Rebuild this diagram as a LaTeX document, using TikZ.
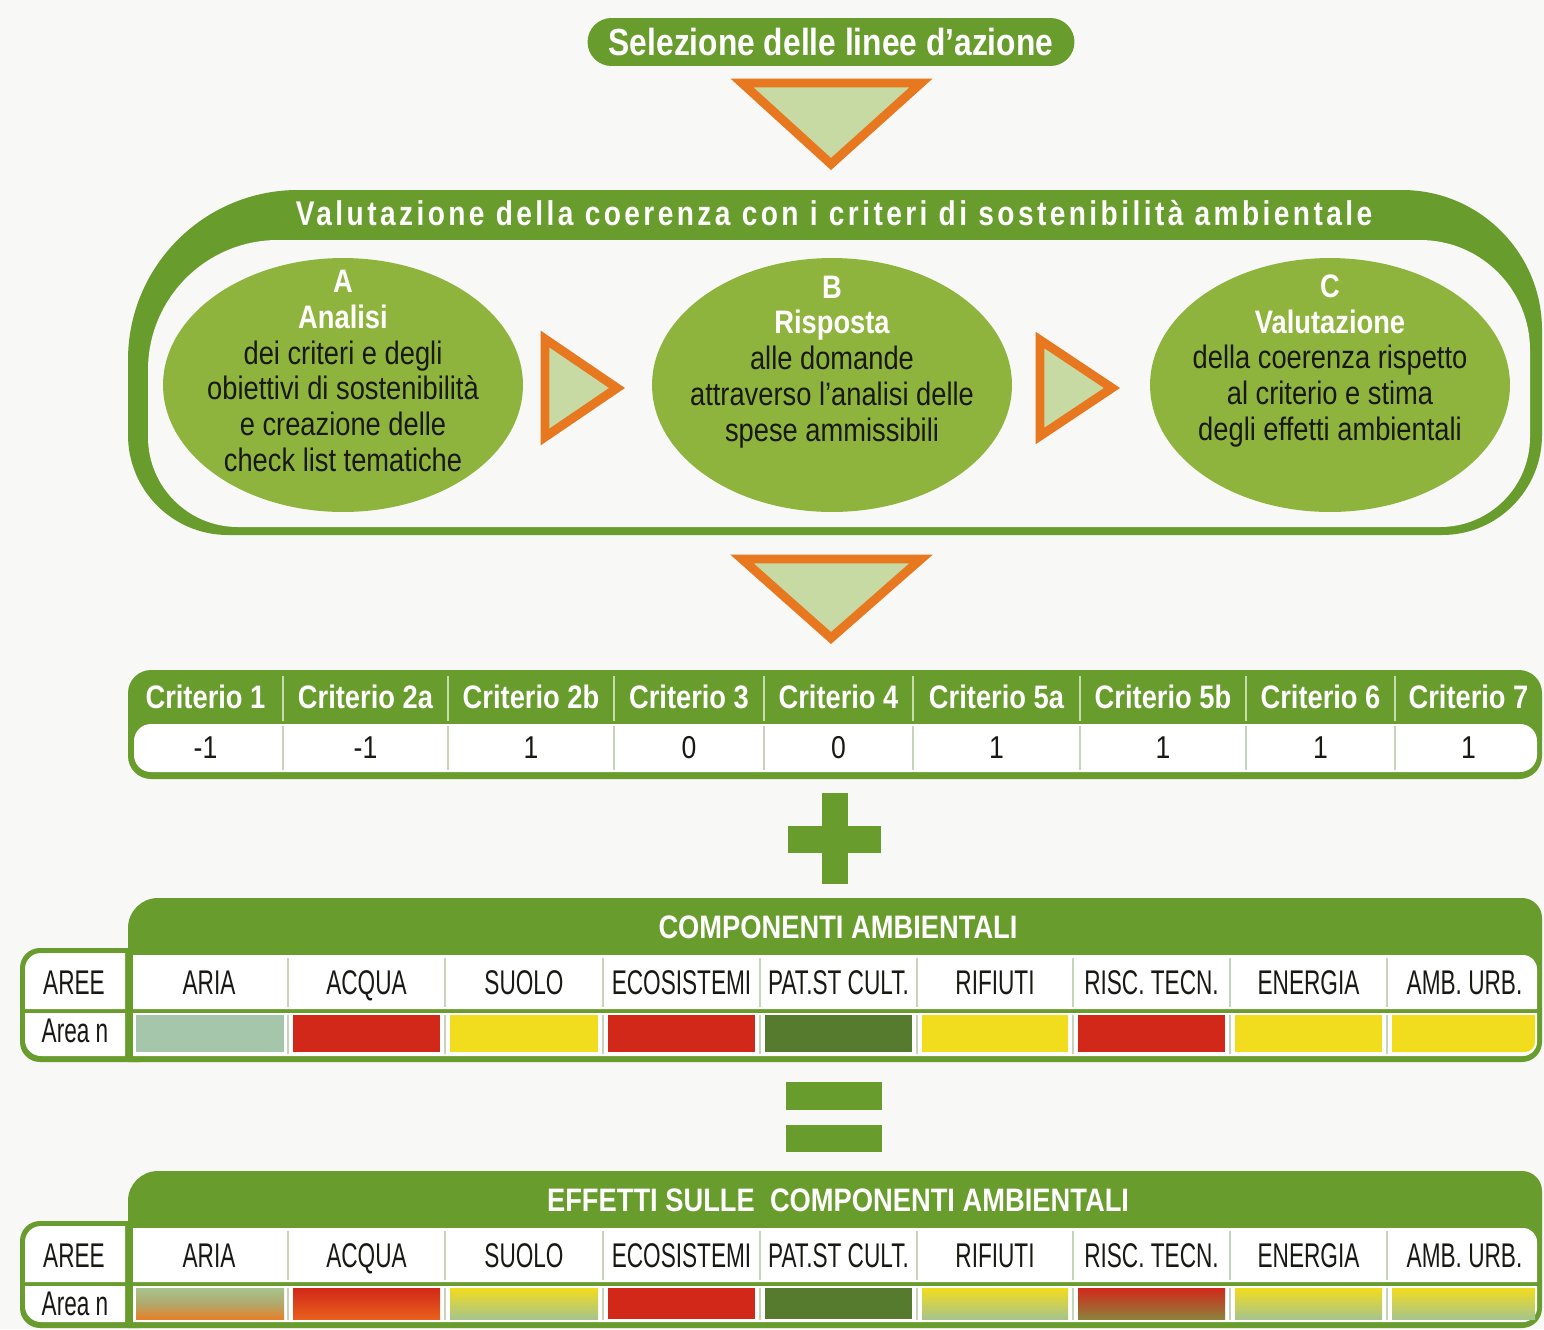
\documentclass[tikz,border=0pt]{standalone}
\usepackage{fontspec}
\setmainfont{Liberation Sans}[FakeStretch=0.84]
\newfontfamily\widefont{Liberation Sans}[FakeStretch=0.82,LetterSpace=10]
\newfontfamily\capsfont{Liberation Sans}[FakeStretch=0.66]
\usetikzlibrary{shapes.geometric}
\definecolor{hdr}{RGB}{104,156,44}
\definecolor{ell}{RGB}{143,180,62}
\definecolor{trifill}{RGB}{200,218,164}
\definecolor{triline}{RGB}{232,120,32}
\definecolor{ink}{RGB}{25,25,20}
\definecolor{bg}{RGB}{248,248,246}
\definecolor{cred}{RGB}{210,40,26}
\definecolor{cyel}{RGB}{242,220,30}
\definecolor{cdkg}{RGB}{86,122,46}
\definecolor{cpale}{RGB}{166,198,172}
\definecolor{cpgreen}{RGB}{166,196,140}
\definecolor{corange}{RGB}{232,128,40}
\definecolor{cred2}{RGB}{232,96,28}
\definecolor{colive}{RGB}{140,130,60}
\definecolor{div}{RGB}{200,212,186}
\definecolor{hdiv}{RGB}{200,222,170}

\newcommand\ctframe[1]{%
  \fill[hdr] (128,#1) -- (128,928) arc (180:270:30) -- (1522,898) arc (270:360:20) -- (1542,#1-20) arc (0:90:20) -- cycle;
  \fill[hdr] (140,948) -- (40,948) arc (270:180:20) -- (20,#1-20) arc (180:90:20) -- (140,#1) -- cycle;
  \fill[white] (133,955) -- (1523,955) arc (270:360:14) -- (1537,1009) -- (133,1009) -- cycle;
  \fill[white] (125,953) -- (41,953) arc (270:180:16) -- (25,1009) -- (125,1009) -- cycle;
  \fill[white] (133,1013) -- (1537,1013) -- (1537,#1-20) arc (0:90:14) -- (133,#1-6) -- cycle;
  \fill[white] (125,1013) -- (25,1013) -- (25,#1-22) arc (180:90:16) -- (125,#1-6) -- cycle;
  \foreach \e in {288,445,603,760,917,1073,1230,1387}{
    \draw[div, line width=1.2pt] (\e,958) -- (\e,1007);
    \draw[div, line width=1.2pt] (\e,1015) -- (\e,#1-8);
  }
}
\newcommand\ctlabels[2]{% #1 prefix, #2 title
  \node[ctitle] (#1title) at (838,927) {#2};
  \node[clab] (#1aree) at (74,983) {AREE};
  \node[clab] (#1arean) at (75,1031) {Area n};
  \foreach \x/\lab [count=\i] in {209/ARIA,366.5/ACQUA,524/SUOLO,681.5/ECOSISTEMI,838.5/PAT.ST CULT.,995/RIFIUTI,1151.5/RISC. TECN.,1308.5/ENERGIA,1464.5/AMB. URB.}{
    \node[clab] (#1c\i) at (\x,983) {\lab};
  }
}

\begin{document}
\begin{tikzpicture}[x=0.02cm,y=-0.02cm,
  pill/.style={fill=hdr, rounded corners=0.48cm, minimum width=9.74cm, minimum height=0.96cm, inner sep=0pt, text=white, font=\fontsize{21.5}{25}\selectfont\bfseries},
  bigtitle/.style={text=white, inner sep=0pt, font=\widefont\fontsize{19.5}{22}\selectfont\bfseries},
  ellshape/.style={ellipse, fill=ell, minimum width=7.2cm, minimum height=5.08cm, inner sep=0pt},
  etext/.style={align=center, text=ink, inner sep=0pt, font=\fontsize{18.5}{20.4}\selectfont},
  arrowtri/.style={fill=trifill, draw=triline, line width=9pt*0.5669, line join=miter},
  crithead/.style={text=white, inner sep=0pt, text height=12.7pt, text depth=0pt, font=\fontsize{18.5}{20}\selectfont\bfseries},
  critval/.style={text=ink, inner sep=0pt, text height=12.4pt, text depth=0pt, font=\fontsize{18}{20}\selectfont},
  ctitle/.style={text=white, inner sep=0pt, text height=12.7pt, text depth=0pt, font=\fontsize{18.5}{20}\selectfont\bfseries},
  clab/.style={text=ink, inner sep=0pt, text height=13.4pt, text depth=0pt, font=\capsfont\fontsize{19.5}{22}\selectfont},
  opsign/.style={fill=hdr}
]
\useasboundingbox (0,0) rectangle (1544,1329);
\fill[bg] (0,0) rectangle (1544,1329);

% title pill
\node[pill] (sel) at (831,42) {Selezione delle linee d'azione};

% down triangle 1
\filldraw[arrowtri] (742,83) -- (921,83) -- (831,164) -- cycle;

% big frame
\fill[hdr] (128,360) arc (180:270:170) -- (1402,190) arc (270:360:140) -- (1542,435) arc (0:90:100) -- (228,535) arc (90:180:100) -- cycle;
\fill[bg] (148,370) arc (180:270:130) -- (1420,240) arc (270:360:110) -- (1530,437) arc (0:90:90) -- (238,527) arc (90:180:90) -- cycle;
\node[bigtitle] (valtitle) at (834,213) {Valutazione della coerenza con i criteri di sostenibilità ambientale};

% ellipses
\node[ellshape] (eA) at (343,385) {};
\node[ellshape] (eB) at (832,385) {};
\node[ellshape] (eC) at (1330,385) {};
\node[etext] (tA) at (343,371) {\textbf{\textcolor{white}{A}}\\ \textbf{\textcolor{white}{Analisi}}\\ dei criteri e degli\\ obiettivi di sostenibilità\\ e creazione delle\\ check list tematiche};
\node[etext] (tB) at (832,362) {\textbf{\textcolor{white}{B}}\\ \textbf{\textcolor{white}{Risposta}}\\ alle domande\\ attraverso l'analisi delle\\ spese ammissibili};
\node[etext] (tC) at (1330,361) {\textbf{\textcolor{white}{C}}\\ \textbf{\textcolor{white}{Valutazione}}\\ della coerenza rispetto\\ al criterio e stima\\ degli effetti ambientali};

% right triangles
\filldraw[arrowtri] (545,339) -- (617,388) -- (545,437) -- cycle;
\filldraw[arrowtri] (1040,340) -- (1112,388) -- (1040,436) -- cycle;

% down triangle 2
\filldraw[arrowtri] (742,559) -- (921,559) -- (831,638) -- cycle;

% criteria table
\fill[hdr, rounded corners=0.46cm] (128,670) rectangle (1542,779);
\fill[white, rounded corners=0.34cm] (134,724) rectangle (1537,772);
\foreach \e in {283,448,614,764,913,1080,1246,1395}{
  \draw[hdiv, line width=1pt] (\e,676) -- (\e,721);
  \draw[div, line width=1.2pt] (\e,726) -- (\e,770);
}
\foreach \x/\h/\v [count=\i] in {205.5/Criterio 1/-1, 365.5/Criterio 2a/-1, 531/Criterio 2b/1, 689/Criterio 3/0, 838.5/Criterio 4/0, 996.5/Criterio 5a/1, 1163/Criterio 5b/1, 1320.5/Criterio 6/1, 1468.5/Criterio 7/1}{
  \node[crithead] (ch\i) at (\x,697) {\h};
  \node[critval] (cv\i) at (\x,748) {\v};
}

% plus
\fill[opsign] (822,793) rectangle (848,884);
\fill[opsign] (788,826) rectangle (881,853);

% components table 1
\ctframe{1062}
\fill[cpale] (136,1015) rectangle (284,1052);
\fill[cred] (293,1015) rectangle (440,1052);
\fill[cyel] (450,1015) rectangle (598,1052);
\fill[cred] (608,1015) rectangle (755,1052);
\fill[cdkg] (765,1015) rectangle (912,1052);
\fill[cyel] (922,1015) rectangle (1068,1052);
\fill[cred] (1078,1015) rectangle (1225,1052);
\fill[cyel] (1235,1015) rectangle (1382,1052);
\fill[cyel] (1392,1015) -- (1535,1015) -- (1535,1042) arc (0:90:10) -- (1392,1052) -- cycle;
\ctlabels{ta}{COMPONENTI AMBIENTALI}

% equals
\fill[opsign] (786,1082) rectangle (882,1110);
\fill[opsign] (786,1125) rectangle (882,1152);

% components table 2
\begin{scope}[shift={(0,273)}]
\ctframe{1055}
\shade[top color=cpgreen, bottom color=corange, middle color=brown!40!cpgreen] (136,1015) rectangle (284,1046);
\shade[top color=cred, bottom color=cred2] (293,1015) rectangle (440,1046);
\shade[top color=cyel, bottom color=cpgreen] (450,1015) rectangle (598,1046);
\fill[cred] (608,1015) rectangle (755,1046);
\fill[cdkg] (765,1015) rectangle (912,1046);
\shade[top color=cyel, bottom color=cpgreen] (922,1015) rectangle (1068,1046);
\shade[top color=cred, bottom color=colive] (1078,1015) rectangle (1225,1046);
\shade[top color=cyel, bottom color=cpgreen] (1235,1015) rectangle (1382,1046);
\shade[top color=cyel, bottom color=cpgreen] (1392,1015) rectangle (1535,1046);
\ctlabels{tb}{EFFETTI SULLE~~COMPONENTI AMBIENTALI}
\end{scope}
\end{tikzpicture}
\end{document}
